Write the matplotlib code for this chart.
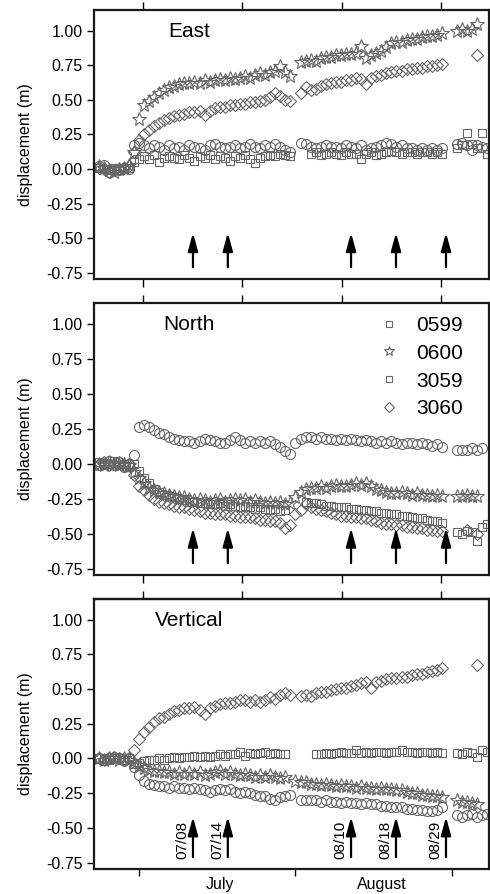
import numpy as np
import matplotlib
matplotlib.use('Agg')
import matplotlib.pyplot as plt
from matplotlib.lines import Line2D

plt.rcParams['font.family'] = ['Liberation Sans', 'DejaVu Sans']

nan = np.nan
# day of year, one sample a day (June 23 .. Sept 8)
days = np.arange(174, 252)

# East
e_0599 = [0.02, 0.03, -0.02, 0.00, -0.01, 0.01, 0.00, 0.17, 0.19, 0.17,
          0.15, 0.17, 0.16, 0.14, 0.17, 0.15, 0.16, 0.14, 0.17, 0.16,
          0.15, 0.14, 0.17, 0.18, 0.16, 0.15, 0.16, 0.17, 0.15, 0.16,
          0.18, 0.16, 0.15, 0.17, 0.16, 0.18, 0.16, 0.14, 0.12, nan,
          0.19, 0.18, 0.16, 0.15, 0.16, 0.17, 0.16, 0.16, 0.15, 0.17,
          0.16, 0.15, 0.17, 0.14, 0.15, 0.16, 0.17, 0.19, 0.18, 0.16,
          0.17, 0.15, 0.15, 0.14, 0.15, 0.14, 0.15, 0.14, 0.15, nan,
          nan, 0.18, 0.19, 0.17, 0.14, 0.17, 0.16, 0.15]
e_0600 = [0.02, 0.01, -0.01, -0.02, 0.00, 0.01, 0.03, 0.12, 0.36, 0.46,
          0.49, 0.52, 0.55, 0.57, 0.59, 0.60, 0.61, 0.62, 0.62, 0.63,
          0.62, 0.64, 0.63, 0.64, 0.65, 0.64, 0.66, 0.65, 0.66, 0.67,
          0.66, 0.68, 0.69, 0.68, 0.70, 0.71, 0.74, 0.70, 0.67, nan,
          0.77, 0.78, 0.79, 0.78, 0.80, 0.81, 0.81, 0.82, 0.82, 0.83,
          0.83, 0.84, 0.89, 0.80, 0.82, 0.84, 0.85, 0.88, 0.91, 0.92,
          0.92, 0.93, 0.94, 0.94, 0.95, 0.96, 0.96, 0.97, 0.98, nan,
          nan, 1.00, 1.01, 1.00, 1.01, 1.05, nan, nan]
e_3059 = [0.01, 0.00, -0.01, 0.01, -0.01, 0.00, 0.01, 0.05, 0.07, 0.09,
          0.07, 0.10, 0.05, 0.08, 0.09, 0.08, 0.07, 0.10, 0.08, 0.06,
          0.09, 0.08, 0.10, 0.07, 0.09, 0.08, 0.06, 0.09, 0.08, 0.10,
          0.07, 0.04, 0.08, 0.09, 0.10, 0.09, 0.11, 0.10, 0.09, nan,
          nan, nan, 0.11, 0.12, 0.10, 0.11, 0.12, 0.11, 0.10, 0.12,
          0.11, 0.11, 0.07, 0.11, 0.12, 0.10, 0.11, 0.12, 0.13, 0.12,
          0.11, 0.12, 0.12, 0.11, 0.12, 0.12, 0.11, 0.12, 0.11, nan,
          nan, 0.15, 0.17, 0.26, 0.18, 0.15, 0.26, 0.11]
e_3060 = [0.01, 0.00, -0.02, -0.01, 0.00, 0.01, 0.02, 0.12, 0.21, 0.25,
          0.28, 0.31, 0.33, 0.35, 0.37, 0.38, 0.39, 0.40, 0.41, 0.41,
          0.42, 0.39, 0.42, 0.44, 0.45, 0.45, 0.46, 0.46, 0.47, 0.47,
          0.48, 0.48, 0.49, 0.50, 0.52, 0.55, 0.53, 0.50, 0.49, nan,
          0.55, 0.59, 0.57, 0.58, 0.60, 0.61, 0.62, 0.63, 0.63, 0.64,
          0.64, 0.66, 0.65, 0.61, 0.66, 0.67, 0.68, 0.69, 0.70, 0.71,
          0.71, 0.72, 0.72, 0.73, 0.73, 0.74, 0.74, 0.75, 0.76, nan,
          nan, nan, nan, nan, nan, 0.82, nan, nan]

# North
n_0599 = [-0.01, 0.00, 0.02, -0.01, 0.01, -0.02, 0.00, 0.06, 0.26, 0.28,
          0.26, 0.24, 0.22, 0.21, 0.19, 0.18, 0.17, 0.16, 0.16, 0.15,
          0.16, 0.18, 0.17, 0.16, 0.15, 0.15, 0.17, 0.19, 0.17, 0.15,
          0.16, 0.15, 0.16, 0.15, 0.16, 0.14, 0.12, 0.09, 0.07, 0.15,
          0.18, 0.19, 0.19, 0.18, 0.19, 0.18, 0.18, 0.17, 0.18, 0.17,
          0.18, 0.17, 0.16, 0.17, 0.16, 0.15, 0.16, 0.15, 0.16, 0.15,
          0.14, 0.15, 0.15, 0.14, 0.15, 0.14, 0.13, 0.14, 0.12, nan,
          nan, 0.10, 0.10, 0.10, 0.11, 0.10, 0.11, nan]
n_0600 = [0.00, -0.01, 0.01, 0.00, -0.01, 0.00, -0.01, -0.06, -0.10, -0.14,
          -0.17, -0.19, -0.20, -0.21, -0.22, -0.23, -0.24, -0.24, -0.25, -0.26,
          -0.25, -0.26, -0.27, -0.26, -0.25, -0.27, -0.26, -0.25, -0.26, -0.25,
          -0.27, -0.26, -0.27, -0.28, -0.27, -0.28, -0.27, -0.29, -0.28, -0.24,
          -0.20, -0.18, -0.17, -0.17, -0.16, -0.17, -0.16, -0.15, -0.16, -0.16,
          -0.15, -0.14, -0.15, -0.14, -0.16, -0.18, -0.19, -0.20, -0.21, -0.21,
          -0.20, -0.21, -0.22, -0.21, -0.22, -0.22, -0.23, -0.22, -0.23, nan,
          nan, -0.23, -0.23, -0.22, -0.23, -0.23, nan, nan]
n_3059 = [0.01, -0.01, 0.00, 0.02, -0.01, 0.00, -0.02, 0.00, -0.05, -0.10,
          -0.14, -0.18, -0.20, -0.22, -0.23, -0.24, -0.25, -0.26, -0.27, -0.27,
          -0.28, -0.28, -0.29, -0.29, -0.28, -0.30, -0.29, -0.30, -0.31, -0.30,
          -0.31, -0.32, -0.31, -0.32, -0.33, -0.32, -0.34, -0.33, nan, nan,
          nan, -0.27, -0.28, -0.28, -0.29, -0.30, -0.30, -0.31, -0.31, -0.31,
          -0.32, -0.32, -0.33, -0.33, -0.34, -0.34, -0.35, -0.35, -0.36, -0.36,
          -0.37, -0.37, -0.38, -0.39, -0.39, -0.40, -0.41, -0.41, -0.42, nan,
          nan, -0.49, -0.50, -0.48, -0.49, -0.55, -0.45, -0.43]
n_3060 = [0.00, 0.01, -0.01, 0.00, 0.01, -0.01, 0.00, -0.08, -0.16, -0.19,
          -0.22, -0.25, -0.27, -0.28, -0.29, -0.30, -0.31, -0.31, -0.32, -0.33,
          -0.34, -0.35, -0.35, -0.36, -0.36, -0.36, -0.37, -0.37, -0.38, -0.38,
          -0.38, -0.39, -0.40, -0.40, -0.41, -0.41, -0.42, -0.46, -0.44, -0.36,
          -0.33, -0.29, -0.31, -0.32, -0.33, -0.34, -0.35, -0.36, -0.37, -0.37,
          -0.38, -0.38, -0.39, -0.39, -0.40, -0.41, -0.42, -0.43, -0.43, -0.44,
          -0.44, -0.45, -0.45, -0.46, -0.46, -0.47, -0.47, -0.48, -0.48, nan,
          nan, nan, nan, -0.47, nan, -0.50, nan, nan]

# Vertical
v_0599 = [0.00, -0.01, 0.00, 0.01, 0.00, -0.01, 0.00, -0.06, -0.12, -0.16,
          -0.18, -0.19, -0.20, -0.20, -0.21, -0.20, -0.21, -0.21, -0.22, -0.21,
          -0.22, -0.23, -0.24, -0.23, -0.22, -0.23, -0.22, -0.24, -0.25, -0.24,
          -0.25, -0.26, -0.27, -0.27, -0.29, -0.30, -0.28, -0.27, -0.26, nan,
          -0.30, -0.30, -0.30, -0.30, -0.31, -0.30, -0.31, -0.31, -0.32, -0.31,
          -0.32, -0.32, -0.33, -0.32, -0.33, -0.33, -0.34, -0.34, -0.35, -0.35,
          -0.35, -0.36, -0.36, -0.37, -0.37, -0.38, -0.38, -0.37, -0.35, nan,
          nan, -0.41, -0.42, -0.41, -0.40, -0.42, -0.41, -0.40]
v_0600 = [0.00, -0.01, 0.00, 0.00, -0.01, 0.00, -0.01, -0.03, -0.05, -0.07,
          -0.08, -0.09, -0.09, -0.10, -0.10, -0.11, -0.10, -0.11, -0.10, -0.11,
          -0.10, -0.12, -0.11, -0.10, -0.09, -0.11, -0.10, -0.11, -0.12, -0.11,
          -0.12, -0.13, -0.12, -0.13, -0.12, -0.13, -0.14, -0.13, nan, -0.16,
          -0.17, -0.17, -0.18, -0.18, -0.19, -0.18, -0.19, -0.20, -0.19, -0.20,
          -0.20, -0.21, -0.20, -0.21, -0.21, -0.22, -0.21, -0.22, -0.22, -0.23,
          -0.23, -0.24, -0.25, -0.25, -0.26, -0.26, -0.27, -0.27, -0.28, nan,
          nan, -0.30, -0.31, -0.31, -0.32, -0.33, nan, nan]
v_3059 = [0.00, 0.00, -0.01, 0.00, 0.00, -0.01, 0.00, -0.04, -0.03, -0.02,
          -0.01, -0.01, 0.00, -0.01, 0.00, 0.01, 0.00, 0.01, 0.01, 0.02,
          0.01, 0.02, 0.01, 0.02, 0.03, 0.02, 0.03, 0.03, 0.05, 0.02,
          0.04, 0.03, 0.04, 0.05, 0.03, 0.04, 0.03, 0.03, nan, nan,
          nan, nan, nan, 0.03, 0.03, 0.04, 0.03, 0.04, 0.05, 0.04,
          0.04, 0.06, 0.04, 0.05, 0.04, 0.05, 0.05, 0.04, 0.05, 0.05,
          0.06, 0.05, 0.05, 0.04, 0.05, 0.05, 0.04, 0.05, 0.04, nan,
          nan, 0.04, 0.03, 0.05, 0.04, 0.01, 0.06, 0.05]
v_3060 = [0.00, -0.01, 0.00, 0.01, 0.00, -0.01, 0.00, 0.06, 0.14, 0.19,
          0.23, 0.26, 0.29, 0.30, 0.32, 0.34, 0.35, 0.36, 0.36, 0.37,
          0.35, 0.32, 0.36, 0.38, 0.39, 0.40, 0.40, 0.41, 0.42, 0.42,
          0.41, 0.42, 0.41, 0.42, 0.44, 0.43, 0.46, 0.47, 0.46, nan,
          0.45, 0.46, 0.45, 0.47, 0.48, 0.48, 0.49, 0.50, 0.51, 0.51,
          0.52, 0.53, 0.54, 0.55, 0.51, 0.55, 0.56, 0.57, 0.58, 0.58,
          0.59, 0.59, 0.60, 0.61, 0.61, 0.62, 0.63, 0.64, 0.65, nan,
          nan, nan, nan, nan, nan, 0.67, nan, nan]

stations = ['0599', '0600', '3059', '3060']
panels = ['East', 'North', 'Vertical']
series = {'East': [e_0599, e_0600, e_3059, e_3060],
          'North': [n_0599, n_0600, n_3059, n_3060],
          'Vertical': [v_0599, v_0600, v_3059, v_3060]}

# event arrows (day of year) and their labels
arrow_days = [192.7, 199.6, 224.0, 232.9, 242.8]
arrow_labels = ['07/08', '07/14', '08/10', '08/18', '08/29']

month_ticks = [182, 213, 244]
month_names = ['July', 'August']
month_label_days = [198.0, 230.1]
top_ticks = [182.8, 202.4, 222.2, 241.8]

gray = '0.4'
mk = [dict(marker='o', ms=7.2), dict(marker='*', ms=10),
      dict(marker='s', ms=6), dict(marker='D', ms=6.5)]

fig = plt.figure(figsize=(4.9, 8.94), dpi=100)
boxes = [[0.1918, 0.6879, 0.806, 0.3009],
         [0.1918, 0.3568, 0.806, 0.3043],
         [0.1918, 0.0280, 0.806, 0.3020]]

for i, name in enumerate(panels):
    ax = fig.add_axes(boxes[i])
    for s, m in zip(series[name], mk):
        ax.plot(days, s, ls='none', mfc='none', mec=gray, mew=0.8, **m)

    ax.set_xlim(173.1, 251.3)
    ax.set_ylim(-0.795, 1.148)
    ax.set_yticks([1.0, 0.75, 0.5, 0.25, 0.0, -0.25, -0.5, -0.75])
    ax.set_yticklabels(['1.00', '0.75', '0.50', '0.25', '0.00', '-0.25', '-0.50', '-0.75'])
    ax.tick_params(axis='y', direction='out', length=5, width=1, labelsize=11.5, pad=3)
    ax.set_ylabel('displacement (m)', fontsize=11.5)
    ax.yaxis.set_label_coords(-0.155, 0.5)
    for sp in ax.spines.values():
        sp.set_linewidth(1.6)
        sp.set_color('0.1')

    if i < 2:
        ax.set_xticks(top_ticks)
        ax.tick_params(axis='x', direction='out', length=6, width=1,
                       top=True, bottom=True, labelbottom=False)
    else:
        ax.set_xticks(month_ticks)
        ax.tick_params(axis='x', direction='out', length=5, width=1, labelbottom=False)
        sec = ax.secondary_xaxis('top')
        sec.set_xticks(top_ticks)
        sec.tick_params(axis='x', direction='out', length=6, width=1, labeltop=False)
        sec.spines['top'].set_linewidth(1.6)
        for d, mname in zip(month_label_days, month_names):
            ax.text(d, -0.056, mname, transform=ax.get_xaxis_transform(),
                    ha='center', va='center', fontsize=11.5)

    ax.text(0.24, 0.92, name, transform=ax.transAxes, ha='center', va='center', fontsize=15)

    tip = -0.42 if i == 2 else -0.46
    for d, lab in zip(arrow_days, arrow_labels):
        ax.annotate('', xy=(d, tip), xytext=(d, -0.71),
                    arrowprops=dict(arrowstyle='-|>,head_length=1.1,head_width=0.3',
                                    color='black', lw=1.6, mutation_scale=10,
                                    shrinkA=0, shrinkB=0))
        if i == 2:
            ax.text(d - 2.1, -0.585, lab, rotation=90, ha='center', va='center', fontsize=11)

    if name == 'North':
        handles = [Line2D([], [], ls='none', marker=m, ms=s, mfc='none', mec=gray, mew=0.8)
                   for m, s in [('s', 5), ('*', 7), ('s', 5), ('D', 5)]]
        ax.legend(handles, stations, loc='upper left', bbox_to_anchor=(0.72, 0.952),
                  frameon=False, fontsize=15, handlelength=1.0, handletextpad=0.8,
                  labelspacing=0.42, borderpad=0, borderaxespad=0)

fig.savefig('out.png', dpi=100)
